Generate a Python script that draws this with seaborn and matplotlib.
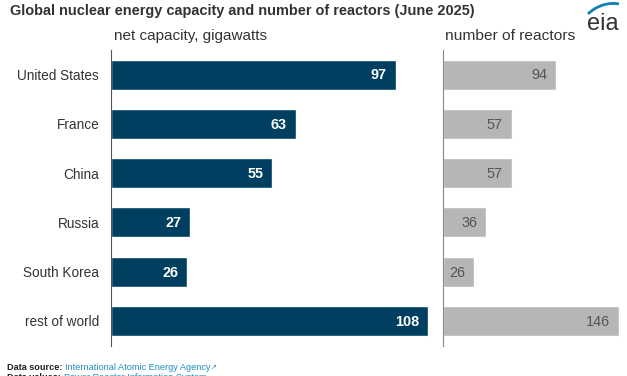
import matplotlib
matplotlib.use('Agg')
import matplotlib.pyplot as plt
from matplotlib.patches import PathPatch
from matplotlib.path import Path
import pandas as pd
import seaborn as sns

countries = ['United States', 'France', 'China', 'Russia', 'South Korea', 'rest of world']
capacity = [97, 63, 55, 27, 26, 108]
reactors = [94, 57, 57, 36, 26, 146]

W, H = 627, 376

sns.set_theme(style='white')
plt.rcParams['font.family'] = ['Liberation Sans', 'DejaVu Sans']

df = pd.DataFrame({'country': countries, 'capacity': capacity, 'reactors': reactors})

fig = plt.figure(figsize=(W / 100, H / 100), dpi=100, facecolor='white')


# pixel box -> figure fractions
def box(left, top, right, bottom):
    return [left / W, 1 - bottom / H, (right - left) / W, (bottom - top) / H]


# left panel - capacity
ax1 = fig.add_axes(box(111, 50, 440, 345.6))
sns.barplot(data=df, x='capacity', y='country', color='#003f5f', saturation=1, width=0.61, ax=ax1)
ax1.set_xlim(0, 329 / 2.935)
ax1.set_ylim(5.5, -0.5)
for i, v in enumerate(capacity):
    ax1.annotate(str(v), (v, i), xytext=(-6.5, -0.6), textcoords='offset points', ha='right', va='center',
                 color='white', fontsize=10.4, fontweight='bold')

# right panel - reactors
ax2 = fig.add_axes(box(443, 50, 625, 345.6))
sns.barplot(data=df, x='reactors', y='country', color='#b6b6b6', saturation=1, width=0.61, ax=ax2)
ax2.set_xlim(0, 182 / 1.205)
ax2.set_ylim(5.5, -0.5)
for i, v in enumerate(reactors):
    ax2.annotate(str(v), (v, i), xytext=(-6.5, -0.6), textcoords='offset points', ha='right', va='center',
                 color='#555555', fontsize=10.4)

for ax in (ax1, ax2):
    for s in ['top', 'right', 'bottom']:
        ax.spines[s].set_visible(False)
    ax.spines['left'].set_color('#555555')
    ax.spines['left'].set_linewidth(0.8)
    ax.set_xlabel('')
    ax.set_ylabel('')
    ax.set_xticks([])
ax2.spines['left'].set_color('#888888')
ax2.set_yticks([])
ax1.tick_params(axis='y', length=0, pad=8.5, labelsize=9.8, labelcolor='#333333')

# titles
fig.text(10 / W, 1 - 11 / H, 'Global nuclear energy capacity and number of reactors (June 2025)',
         fontsize=10.45, fontweight='bold', color='#333333', va='center', ha='left')
fig.text(114 / W, 1 - 36 / H, 'net capacity, gigawatts', fontsize=10.95, color='#333333', va='center')
fig.text(445 / W, 1 - 36 / H, 'number of reactors', fontsize=11.15, color='#333333', va='center')

# logo
fig.text(587 / W, 1 - 24 / H, 'eia', fontsize=17, color='#333333', va='center', ha='left')
arc = Path([(588 / W, 1 - 14 / H), (597 / W, 1 - 5 / H), (610 / W, 1 - 2 / H), (619 / W, 1 - 4 / H)],
           [Path.MOVETO, Path.CURVE4, Path.CURVE4, Path.CURVE4])
fig.add_artist(PathPatch(arc, facecolor='none', edgecolor='#0f7fb5', lw=2, transform=fig.transFigure))

# footer, the second line is cut off by the image edge in the reference
fig.text(7 / W, 1 - 367 / H, 'Data source:', fontsize=6.6, fontweight='bold', color='#222222', va='center')
fig.text(65 / W, 1 - 367 / H, 'International Atomic Energy Agency', fontsize=6.6, color='#1f8fc0', va='center')
fig.text(211 / W, 1 - 366.5 / H, '↗', fontsize=5, color='#1f8fc0', va='center', family=['DejaVu Sans'])
fig.text(7 / W, 1 - 378 / H, 'Data values:', fontsize=6.6, fontweight='bold', color='#222222', va='center')
fig.text(64 / W, 1 - 378 / H, 'Power Reactor Information System', fontsize=6.6, color='#1f8fc0', va='center')

fig.savefig('out.png', dpi=100)
